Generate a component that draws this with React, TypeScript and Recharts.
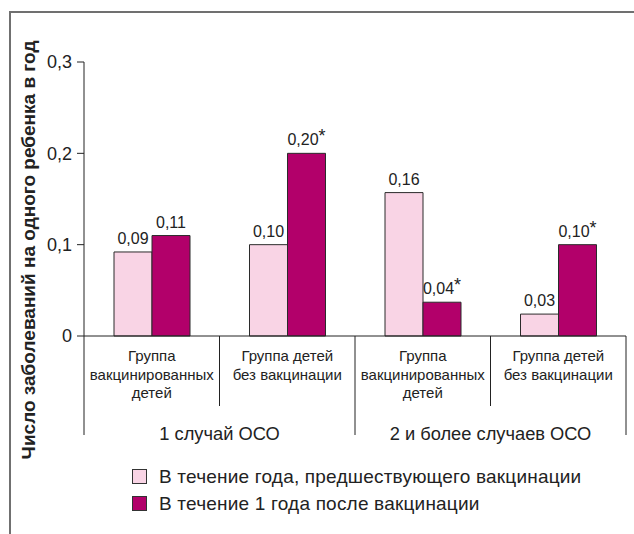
import React from "react"
import { Bar, BarChart, LabelList, Legend, XAxis, YAxis } from "recharts"

// categories (lines of each tick label) and their top-level group
const categoryLines = [
  ["Группа", "вакцинированных", "детей"],
  ["Группа детей", "без вакцинации"],
  ["Группа", "вакцинированных", "детей"],
  ["Группа детей", "без вакцинации"],
]
const categoryGroup = [0, 0, 1, 1]
const groupNames = ["1 случай ОСО", "2 и более случаев ОСО"]

const seriesNames = [
  "В течение года, предшествующего вакцинации",
  "В течение 1 года после вакцинации",
]

// bar heights as drawn, and the numbers printed above them
const beforeValues = [0.092, 0.1, 0.157, 0.024]
const afterValues = [0.11, 0.2, 0.037, 0.1]
const beforeLabels = ["0,09", "0,10", "0,16", "0,03"]
const afterLabels = ["0,11", "0,20", "0,04", "0,10"]
const beforeStars = [false, false, false, false]
const afterStars = [false, true, true, true]

const yTicks = [0, 0.1, 0.2, 0.3]
const yTickLabels = ["0", "0,1", "0,2", "0,3"]

const PINK = "#f9d4e5"
const MAGENTA = "#b2006a"
const INK = "#222222"
const FONT = "'Liberation Sans', Arial, sans-serif"

const W = 634
const H = 534
const MARGIN = { top: 62, right: 8, left: 24, bottom: 0 }
const Y_AXIS_W = 60
const BAND = (W - MARGIN.left - MARGIN.right - Y_AXIS_W) / categoryLines.length

const data = categoryLines.map((lines, i) => ({
  id: `${groupNames[categoryGroup[i]]}: ${lines.join(" ")}`,
  before: beforeValues[i],
  after: afterValues[i],
  beforeLabel: beforeLabels[i],
  afterLabel: afterLabels[i],
}))

function CategoryTick(props: any) {
  const { x, y, payload } = props
  const i = payload.index
  const half = BAND / 2
  const n = categoryLines.length
  const groupStart = i === 0 || categoryGroup[i] !== categoryGroup[i - 1]
  const groupEnd = i === n - 1 || categoryGroup[i] !== categoryGroup[i + 1]
  const members = categoryGroup.filter((g) => g === categoryGroup[i]).length
  return (
    <g>
      {i === 0 && <line x1={x - half} x2={x - half} y1={y} y2={y + 99} stroke={INK} />}
      <line x1={x + half} x2={x + half} y1={y} y2={y + (groupEnd ? 99 : 70)} stroke={INK} />
      <text x={x} y={y + 25} textAnchor="middle" fontSize={15} fill={INK}>
        {categoryLines[i].map((line, k) => (
          <tspan key={k} x={x} dy={k === 0 ? 0 : 18.5}>
            {line}
          </tspan>
        ))}
      </text>
      {groupStart && (
        <text x={x - half + (members * BAND) / 2} y={y + 104} textAnchor="middle" fontSize={18.3} fill={INK}>
          {groupNames[categoryGroup[i]]}
        </text>
      )}
    </g>
  )
}

const valueLabel = (stars: boolean[]) => (props: any) => {
  const { x, y, width, value, index } = props
  return (
    <text x={x + width / 2} y={y - 8} textAnchor="middle" fontSize={16} fill={INK}>
      {value}
      {stars[index] && (
        <tspan dy={-3} fontSize={18}>
          *
        </tspan>
      )}
    </text>
  )
}

function LegendBox() {
  const colors = [PINK, MAGENTA]
  return (
    <div style={{ height: 98, paddingTop: 27, paddingLeft: 132, boxSizing: "border-box", fontFamily: FONT }}>
      {seriesNames.map((name, i) => (
        <div key={name} style={{ display: "flex", alignItems: "center", height: 27 }}>
          <span
            style={{
              width: 15,
              height: 15,
              boxSizing: "border-box",
              background: colors[i],
              border: "1px solid #333",
              marginRight: 12,
            }}
          />
          <span style={{ fontSize: 19, letterSpacing: 0.2, color: INK }}>{name}</span>
        </div>
      ))}
    </div>
  )
}

export default function App() {
  return (
    <div style={{ position: "absolute", left: 0, top: 0, width: W, height: H, overflow: "hidden", background: "#fff", fontFamily: FONT }}>
      <div
        style={{
          position: "absolute",
          left: 9,
          top: 11,
          width: 700,
          height: 600,
          borderTop: "2px solid #707070",
          borderLeft: "2px solid #707070",
        }}
      />
      <BarChart width={W} height={H} data={data} margin={MARGIN} barGap={0} style={{ fontFamily: FONT }}>
        <XAxis
          dataKey="id"
          height={100}
          tickLine={false}
          tickSize={0}
          tickMargin={0}
          axisLine={{ stroke: INK }}
          interval={0}
          tick={<CategoryTick />}
        />
        <YAxis
          type="number"
          domain={[0, 0.3]}
          ticks={yTicks}
          width={Y_AXIS_W}
          tickSize={7}
          tickMargin={5}
          axisLine={{ stroke: INK }}
          tickLine={{ stroke: INK }}
          tick={{ fontSize: 18, fill: INK }}
          tickFormatter={(v: number) => yTickLabels[yTicks.indexOf(v)]}
          label={{
            value: "Число заболеваний на одного ребенка в год",
            content: () => (
              <text
                x={35}
                y={250}
                transform="rotate(-90, 35, 250)"
                textAnchor="middle"
                fontSize={19}
                fontWeight="bold"
                fill={INK}
              >
                Число заболеваний на одного ребенка в год
              </text>
            ),
          }}
        />
        <Legend verticalAlign="bottom" wrapperStyle={{ left: 0, width: W }} content={() => <LegendBox />} />
        <Bar dataKey="before" name={seriesNames[0]} fill={PINK} stroke="#2b2b2b" barSize={38} isAnimationActive={false}>
          <LabelList dataKey="beforeLabel" content={valueLabel(beforeStars)} />
        </Bar>
        <Bar dataKey="after" name={seriesNames[1]} fill={MAGENTA} stroke="#2b2b2b" barSize={38} isAnimationActive={false}>
          <LabelList dataKey="afterLabel" content={valueLabel(afterStars)} />
        </Bar>
      </BarChart>
    </div>
  )
}
